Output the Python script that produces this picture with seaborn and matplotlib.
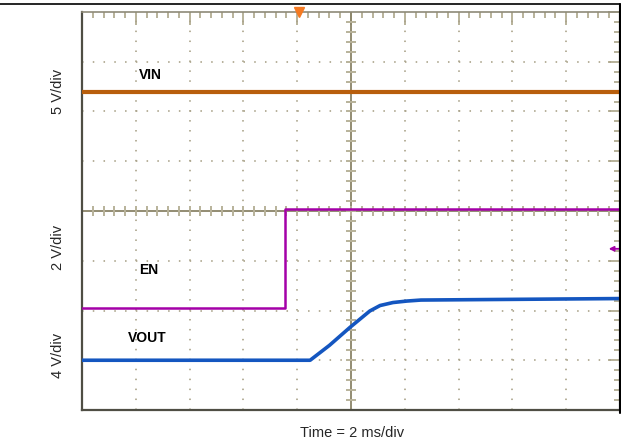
import numpy as np
import pandas as pd
import seaborn as sn
import matplotlib
matplotlib.use('Agg')
from matplotlib import pyplot as plt
from matplotlib.lines import Line2D

# screen divisions: x 0..10 (2 ms/div), y 0..8 from bottom of the graticule
vin_t = [0.0, 10.0]
vin_div = [6.39, 6.39]

en_t = [0.0, 3.77, 3.77, 10.0]
en_div = [2.05, 2.05, 4.04, 4.04]

vout_t = [0.0, 4.24, 4.60, 4.98, 5.35, 5.54, 5.78, 6.04, 6.30, 10.0]
vout_div = [1.0, 1.0, 1.30, 1.66, 1.99, 2.10, 2.16, 2.19, 2.21, 2.24]

channel_labels = ['VIN', 'EN', 'VOUT']
label_pos = [(1.06, 6.73), (1.06, 2.81), (0.85, 1.45)]
scale_labels = ['5 V/div', '2 V/div', '4 V/div']
scale_label_px = [91, 247, 355]
trigger_t = 4.03
en_marker_div = 3.24

colors = {'VIN': '#b85e0c', 'EN': '#a400a8', 'VOUT': '#1456c0'}
widths = {'VIN': 3.0, 'EN': 1.8, 'VOUT': 2.6}

sn.set_style('white')
plt.rcParams['font.family'] = ['Liberation Sans', 'DejaVu Sans']
plt.rcParams['lines.scale_dashes'] = False

W, H = 621, 448
fig = plt.figure(figsize=(W / 100, H / 100), dpi=100)
ax = fig.add_axes([82 / W, (H - 410) / H, (620 - 82) / W, (410 - 12) / H])

tick_col = '#b8b29a'
grid_col = '#aaa38a'

# dotted graticule
for xv in range(1, 10):
    if xv == 5:
        continue
    ax.axvline(xv, color=grid_col, lw=1.2, ls=(0, (1.1, 7.16 - 1.1)), zorder=1)
for yv in range(1, 8):
    if yv == 4:
        continue
    ax.axhline(yv, color=grid_col, lw=1.2, ls=(0, (1.1, 7.75 - 1.1)), zorder=1)

# centre cross with tick marks
ax.axvline(5, color='#8a8468', lw=1.3, zorder=1)
ax.axhline(4, color='#8a8468', lw=1.3, zorder=1)
minor_x = np.arange(0.2, 10, 0.2)
minor_y = np.arange(0.2, 8, 0.2)
ax.plot(minor_x, np.full(len(minor_x), 4.0), ls='none', marker='|', ms=7,
        mew=1.4, color=tick_col, zorder=1)
ax.plot(np.full(len(minor_y), 5.0), minor_y, ls='none', marker='_', ms=7,
        mew=1.4, color=tick_col, zorder=1)

traces = pd.concat([
    pd.DataFrame({'t': vin_t, 'v': vin_div, 'ch': 'VIN'}),
    pd.DataFrame({'t': en_t, 'v': en_div, 'ch': 'EN'}),
    pd.DataFrame({'t': vout_t, 'v': vout_div, 'ch': 'VOUT'}),
])
for ch in channel_labels:
    sn.lineplot(data=traces[traces['ch'] == ch], x='t', y='v', ax=ax,
                color=colors[ch], lw=widths[ch], estimator=None, sort=False,
                zorder=3)

for name, (lx, ly) in zip(channel_labels, label_pos):
    ax.text(lx, ly, name, fontsize=10, fontweight='bold', ha='left',
            va='center', color='black', zorder=4)

# trigger marker and EN level arrow
ax.plot([trigger_t], [8], marker='v', ms=7, color='#f57a22', mec='#f57a22',
        clip_on=False, zorder=5)
ax.annotate('', xy=(9.79, en_marker_div), xytext=(10.0, en_marker_div),
            arrowprops=dict(arrowstyle='-|>', color=colors['EN'], lw=1.3,
                            mutation_scale=7, shrinkA=0, shrinkB=0),
            annotation_clip=False)

ax.set_xlim(0, 10)
ax.set_ylim(0, 8)
ax.set_xlabel('')
ax.set_ylabel('')
ax.set_xticks(range(0, 11))
ax.set_yticks(range(0, 9))
ax.set_xticks(np.arange(0, 10.01, 0.2), minor=True)
ax.set_yticks(np.arange(0, 8.01, 0.2), minor=True)
ax.tick_params(which='both', direction='in', top=True, right=True,
               labelbottom=False, labelleft=False, color=tick_col, width=1.4)
ax.tick_params(which='major', length=9)
ax.tick_params(which='minor', length=4)

for side in ['left', 'bottom']:
    ax.spines[side].set_color('#4f4e44')
    ax.spines[side].set_linewidth(1.6)
ax.spines['top'].set_color('#8e8a78')
ax.spines['top'].set_linewidth(1.2)
ax.spines['right'].set_color('black')
ax.spines['right'].set_linewidth(1.5)

# outer frame lines of the screenshot
fig.add_artist(Line2D([0, 620 / W], [1 - 4.5 / H, 1 - 4.5 / H], color='black', lw=1.2))
fig.add_artist(Line2D([620 / W, 620 / W], [1 - 4.5 / H, 1 - 413 / H], color='black', lw=1.5))

for txt, py in zip(scale_labels, scale_label_px):
    fig.text(58 / W, 1 - py / H, txt, rotation=90, ha='center', va='center',
             fontsize=10.5)
fig.text(352 / W, 1 - 433 / H, 'Time = 2 ms/div', ha='center', va='center',
         fontsize=10.5)

fig.savefig('out.png', dpi=100)
